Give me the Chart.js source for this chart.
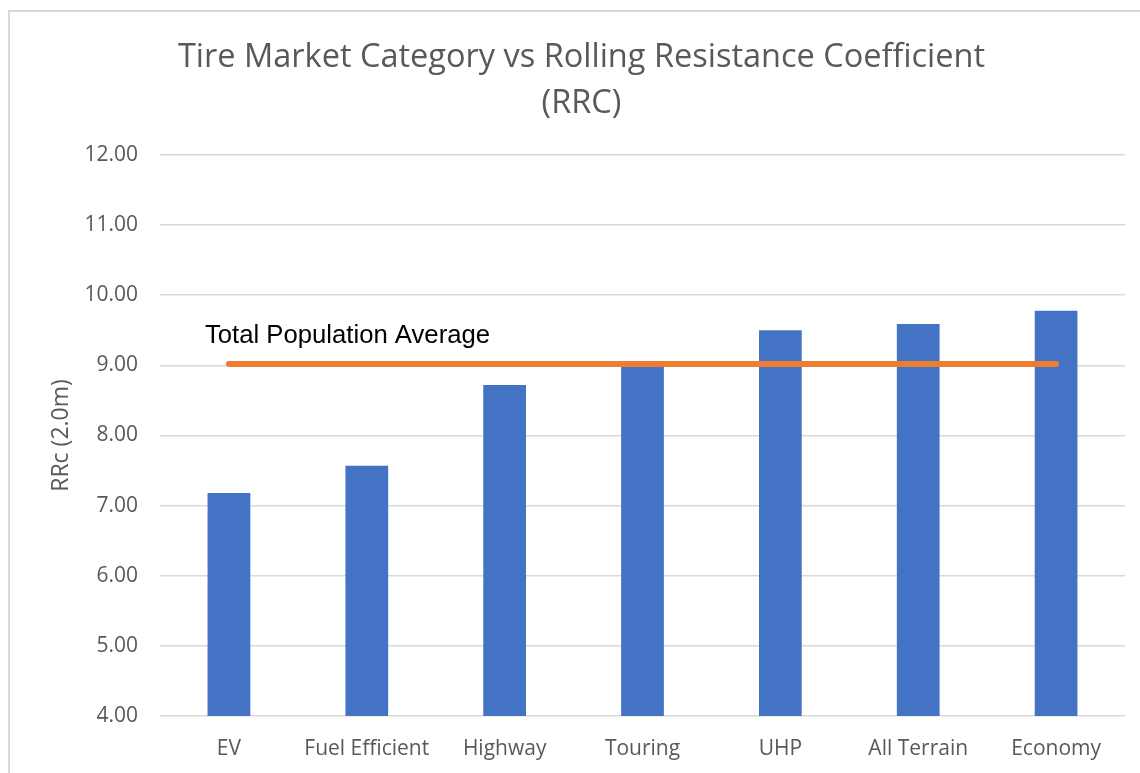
<!DOCTYPE html>
<html>
<head>
<meta charset="utf-8">
<script src="https://cdn.jsdelivr.net/npm/chart.js@4.4.0/dist/chart.umd.min.js"></script>
<style>
  html, body { margin: 0; padding: 0; background: #fff; overflow: hidden; }
  #wrap { position: relative; width: 1140px; height: 773px; }
  #frame { position: absolute; left: 8px; top: 10px; width: 1160px; height: 800px; border: 2px solid #d9d9d9; box-sizing: border-box; }
  #chart { position: absolute; left: 0; top: 0; }
</style>
</head>
<body>
<div id="wrap">
  <div id="frame"></div>
  <canvas id="chart" width="1140" height="773"></canvas>
</div>
<script>
// --- datos ---
const categories = ['EV', 'Fuel Efficient', 'Highway', 'Touring', 'UHP', 'All Terrain', 'Economy'];
const rrcValues = [7.18, 7.57, 8.72, 9.00, 9.50, 9.59, 9.78];
const populationAverage = [9.02, 9.02, 9.02, 9.02, 9.02, 9.02, 9.02];
const yTicks = [4, 5, 6, 7, 8, 9, 10, 11, 12];

const GREY = '#595959';
const FONT = '"Open Sans", Lato, sans-serif';

// etiqueta de la linea de promedio
const averageLabel = {
  id: 'averageLabel',
  afterDatasetsDraw(chart) {
    const { ctx, scales } = chart;
    const x = scales.x.getPixelForValue(0) - 24;
    const y = scales.y.getPixelForValue(populationAverage[0]) - 21;
    ctx.save();
    ctx.font = '25.7px "Liberation Sans", Arial, sans-serif';
    ctx.fillStyle = '#000';
    ctx.textAlign = 'left';
    ctx.textBaseline = 'alphabetic';
    ctx.fillText('Total Population Average', x, y);
    ctx.restore();
  }
};

new Chart(document.getElementById('chart').getContext('2d'), {
  type: 'bar',
  data: {
    labels: categories,
    datasets: [
      {
        type: 'line',
        label: 'Total Population Average',
        data: populationAverage,
        borderColor: '#ED7D31',
        borderWidth: 6,
        borderCapStyle: 'round',
        pointRadius: 0,
        fill: false,
        order: 0
      },
      {
        label: 'RRc',
        data: rrcValues,
        backgroundColor: '#4472C4',
        barPercentage: 0.31,
        categoryPercentage: 1,
        order: 1
      }
    ]
  },
  options: {
    responsive: false,
    animation: false,
    layout: { padding: { left: 38, right: 15, top: 10, bottom: 0 } },
    plugins: {
      legend: { display: false },
      tooltip: { enabled: false },
      title: {
        display: true,
        text: ['Tire Market Category vs Rolling Resistance Coefficient', '(RRC)'],
        color: GREY,
        font: { family: FONT, size: 32.5, weight: 'normal', lineHeight: 1.415 },
        padding: { top: 25, bottom: 28 }
      }
    },
    scales: {
      x: {
        afterFit(scale) { scale.height = 57; },
        grid: { display: false, drawTicks: false },
        border: { display: false },
        ticks: { color: GREY, font: { family: FONT, size: 21 }, padding: 20, maxRotation: 0 }
      },
      y: {
        min: 4,
        max: 12,
        afterFit(scale) { scale.width = 122; },
        afterBuildTicks(scale) { scale.ticks = yTicks.map(v => ({ value: v })); },
        grid: { color: '#d9d9d9', lineWidth: 1.5, drawTicks: false },
        border: { display: false },
        ticks: {
          color: GREY,
          font: { family: FONT, size: 21 },
          padding: 22,
          callback: v => Number(v).toFixed(2)
        },
        title: {
          display: true,
          text: 'RRc (2.0m)',
          color: GREY,
          font: { family: FONT, size: 23 },
          padding: { top: 10, bottom: 0 }
        }
      }
    }
  },
  plugins: [averageLabel]
});
</script>
</body>
</html>
